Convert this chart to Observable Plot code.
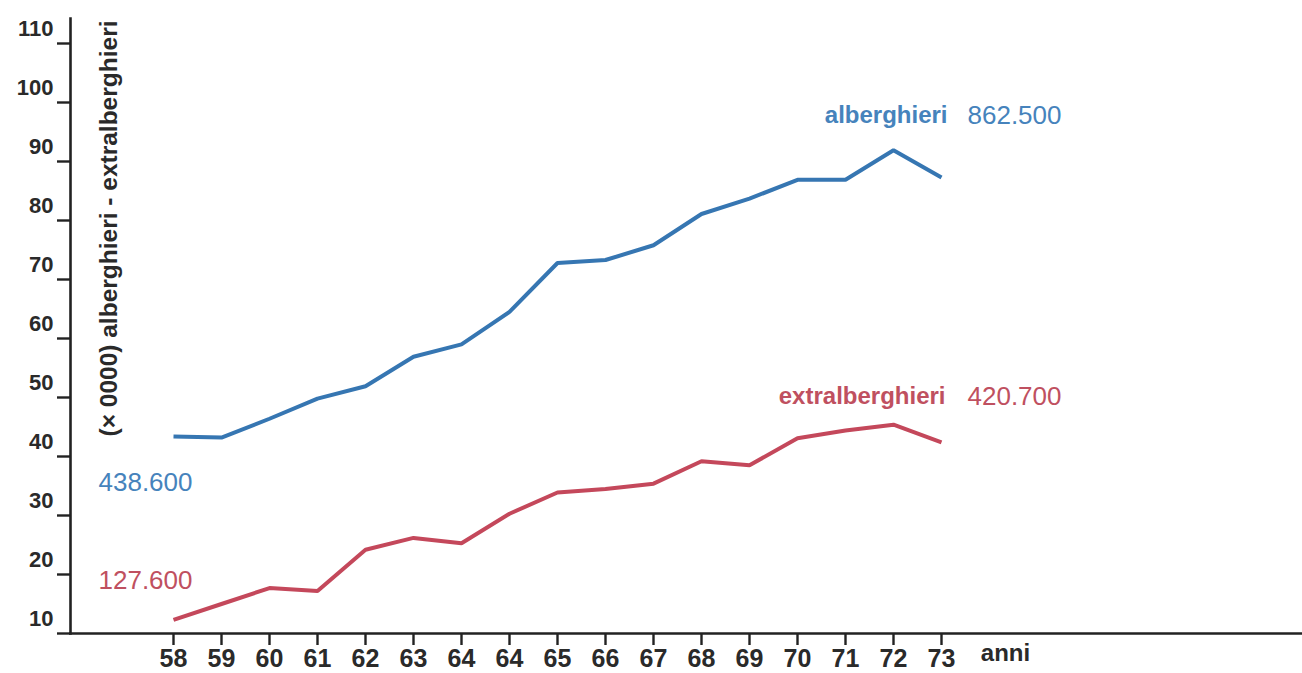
<!DOCTYPE html>
<html>
<head>
<meta charset="utf-8">
<script src="https://cdn.jsdelivr.net/npm/d3@7"></script>
<script src="https://cdn.jsdelivr.net/npm/@observablehq/plot@0.6"></script>
<style>
  html, body { margin: 0; padding: 0; background: #ffffff; }
  #chart { width: 1302px; height: 673px; }
  svg { font-family: "Liberation Sans", Arial, sans-serif; }
</style>
</head>
<body>
<div id="chart"></div>
<script>
// Year labels as printed in the original (note "64" appears twice)
const yearLabels = ["58","59","60","61","62","63","64","64","65","66","67","68","69","70","71","72","73"];
// alberghieri (× 10 000)
const alberghieri = [43.4, 43.2, 46.4, 49.8, 51.9, 56.9, 59.0, 64.5, 72.8, 73.3, 75.8, 81.1, 83.7, 86.9, 86.9, 91.9, 87.3];
// extralberghieri (× 10 000)
const extralberghieri = [12.3, 15.0, 17.7, 17.2, 24.2, 26.2, 25.3, 30.3, 33.9, 34.5, 35.4, 39.2, 38.5, 43.1, 44.4, 45.4, 42.4];
const yTicks = [10, 20, 30, 40, 50, 60, 70, 80, 90, 100, 110];

const idx = d3.range(yearLabels.length);
const last = idx.length - 1;
const blue = "#3676b2";
const blueText = "#4683bc";
const red = "#c4485b";
const redText = "#bf5060";
const ink = "#222";

const rows = [
  ...idx.map(i => ({i, v: alberghieri[i], s: "alberghieri"})),
  ...idx.map(i => ({i, v: extralberghieri[i], s: "extralberghieri"}))
];

const chart = Plot.plot({
  width: 1302,
  height: 673,
  marginLeft: 70,
  marginRight: 0,
  marginTop: 18,
  marginBottom: 40,
  x: {type: "point", domain: idx, range: [172, 942], padding: 0},
  y: {domain: [10, 110], range: [633, 43]},
  marks: [
    Plot.line(rows, {x: "i", y: "v", z: "s", stroke: d => d.s === "alberghieri" ? blue : red, strokeWidth: 4, strokeLinejoin: "miter", strokeLinecap: "butt"}),
    Plot.frame({anchor: "left", stroke: ink, strokeWidth: 2.6}),
    Plot.frame({anchor: "bottom", stroke: ink, strokeWidth: 2.6}),
    Plot.axisY({ticks: yTicks, tickSize: 13, tickFormat: () => "", stroke: ink, strokeWidth: 2.4, label: null}),
    Plot.axisY({ticks: yTicks, tickSize: 0, tickPadding: 17, dy: -15, fontSize: 22, fontWeight: "bold", fill: "#2a2a2a", label: null, letterSpacing: "-1px"}),
    Plot.axisX({ticks: idx, tickFormat: i => yearLabels[i], tickSize: 12, tickPadding: 4, fontSize: 25, fontWeight: "bold", fill: "#2a2a2a", stroke: ink, strokeWidth: 2.4, label: null, letterSpacing: "-1px"}),
    Plot.text(["anni"], {x: () => last, frameAnchor: "bottom", dx: 64, dy: 27, text: d => d, fontSize: 24, fontWeight: "bold", fill: "#2a2a2a"}),
    Plot.text(["(× 0000) alberghieri - extralberghieri"], {frameAnchor: "top-left", dx: 29, dy: 2, rotate: -90, textAnchor: "end", text: d => d, fontSize: 24.5, fontWeight: "bold", fill: "#2a2a2a"}),
    // start value annotations
    Plot.text(["438.600"], {x: () => 0, y: () => alberghieri[0], dx: -75, dy: 46, textAnchor: "start", text: d => d, fontSize: 26, fill: blueText, letterSpacing: "1px"}),
    Plot.text(["127.600"], {x: () => 0, y: () => extralberghieri[0], dx: -75, dy: -39, textAnchor: "start", text: d => d, fontSize: 26, fill: redText, letterSpacing: "1px"}),
    // end labels
    Plot.text(["alberghieri"], {x: () => last, y: () => alberghieri[last], dx: 6, dy: -62, textAnchor: "end", text: d => d, fontSize: 24, fontWeight: "bold", fill: blueText}),
    Plot.text(["862.500"], {x: () => last, y: () => alberghieri[last], dx: 26, dy: -62, textAnchor: "start", text: d => d, fontSize: 26, fill: blueText, letterSpacing: "1px"}),
    Plot.text(["extralberghieri"], {x: () => last, y: () => extralberghieri[last], dx: 4, dy: -46, textAnchor: "end", text: d => d, fontSize: 24, fontWeight: "bold", fill: redText}),
    Plot.text(["420.700"], {x: () => last, y: () => extralberghieri[last], dx: 26, dy: -46, textAnchor: "start", text: d => d, fontSize: 26, fill: redText, letterSpacing: "1px"})
  ]
});
document.getElementById("chart").appendChild(chart);
</script>
</body>
</html>
